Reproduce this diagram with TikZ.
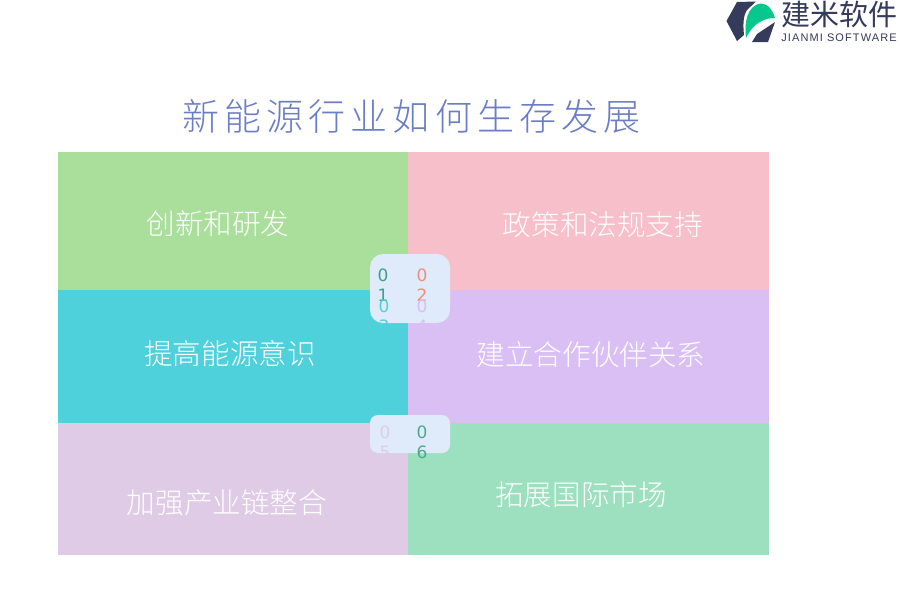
\documentclass[tikz,border=0pt]{standalone}
\usepackage{fontspec}
\setmainfont{Liberation Sans}
\newfontfamily\cjk{Noto Sans CJK SC}
\newfontfamily\cjklight{Noto Sans CJK SC Light}
\newfontfamily\titlefont{Noto Sans CJK SC Light}[LetterSpace=14]
\newfontfamily\digitfont{DejaVu Sans}
\definecolor{pgreen}{HTML}{A9DF9A}
\definecolor{ppink}{HTML}{F7BFCA}
\definecolor{pcyan}{HTML}{4FD1DC}
\definecolor{ppurple}{HTML}{D9BFF3}
\definecolor{pmauve}{HTML}{DFCBE6}
\definecolor{pmint}{HTML}{9DE0BF}
\definecolor{badge}{HTML}{DFEAFA}
\definecolor{titlec}{HTML}{6B7DC4}
\definecolor{logod}{HTML}{343B5B}
\definecolor{logog}{HTML}{05C88C}
\definecolor{dteal}{HTML}{3D9F8C}
\definecolor{dorange}{HTML}{F28C78}
\definecolor{dgreen}{HTML}{4BAA8C}
\tikzset{
  panel/.style={draw=none,inner sep=0,outer sep=0,anchor=north west},
  plabel/.style={text=white,font=\fontsize{28.6}{28.6}\selectfont\cjklight,inner sep=0},
  dig/.style={font=\fontsize{17}{17}\selectfont\digitfont,inner sep=0},
}
\begin{document}
\begin{tikzpicture}[x=1pt,y=-1pt]
\useasboundingbox (0,0) rectangle (900,600);
\fill[white] (0,0) rectangle (900,600);
% panels
\node[panel,fill=pgreen,minimum width=350pt,minimum height=138pt] (p1) at (58,152) {};
\node[panel,fill=ppink,minimum width=361pt,minimum height=138pt] (p2) at (408,152) {};
\node[panel,fill=pcyan,minimum width=350pt,minimum height=133pt] (p3) at (58,290) {};
\node[panel,fill=ppurple,minimum width=361pt,minimum height=133pt] (p4) at (408,290) {};
\node[panel,fill=pmauve,minimum width=350pt,minimum height=132pt] (p5) at (58,423) {};
\node[panel,fill=pmint,minimum width=361pt,minimum height=132pt] (p6) at (408,423) {};
% labels
\node[plabel] (l1) at (218,224) {创新和研发};
\node[plabel] (l2) at (603,225) {政策和法规支持};
\node[plabel] (l3) at (230,354) {提高能源意识};
\node[plabel] (l4) at (591,355) {建立合作伙伴关系};
\node[plabel] (l5) at (227,503) {加强产业链整合};
\node[plabel] (l6) at (581,495) {拓展国际市场};
% title
\node[text=titlec,font=\fontsize{37}{37}\selectfont\titlefont,inner sep=0] (title) at (411.5,116) {新能源行业如何生存发展};
% badges
\fill[badge,rounded corners=13pt] (370,254) rectangle (450,323);
\fill[badge,rounded corners=8pt] (370,415) rectangle (450,453);
\begin{scope}
\clip[rounded corners=13pt] (370,254) rectangle (450,323);
\node[dig,text=dteal] (d1a) at (383,275) {0};
\node[dig,text=dteal] (d1b) at (383,295) {1};
\node[dig,text=dorange] (d2a) at (422,275) {0};
\node[dig,text=dorange] (d2b) at (422,295) {2};
\node[dig,text=pcyan] (d3a) at (384,306) {0};
\node[dig,text=pcyan] (d3b) at (384,326) {3};
\node[dig,text=ppurple] (d4a) at (422,306) {0};
\node[dig,text=ppurple] (d4b) at (422,326) {4};
\end{scope}
\begin{scope}
\clip[rounded corners=8pt] (370,415) rectangle (470,453);
\node[dig,text=pmauve] (d5a) at (385,432) {0};
\node[dig,text=pmauve] (d5b) at (385,452) {5};
\end{scope}
\node[dig,text=dgreen] (d6a) at (422,432) {0};
\node[dig,text=dgreen] (d6b) at (422,452) {6};
% logo
\fill[logod] (726.5,21) -- (737,2) -- (756,1.5) -- (747,10) .. controls (743,16) and (743,25) .. (744,35) -- (737,41) -- cycle;
\fill[logog] (746,38) .. controls (744,20) and (748,8) .. (758,4) .. controls (766,2) and (772,8) .. (775,18) .. controls (765,18) and (754,22) .. (746,38) -- cycle;
\fill[logod] (752,42) -- (757,34) -- (775,22) -- (768,42) -- cycle;
\node[text=logod,font=\fontsize{29}{29}\selectfont\cjk,inner sep=0] (brand) at (839.5,14) {建米软件};
\node[text=logod,font=\fontsize{11}{11}\selectfont\addfontfeature{LetterSpace=10},inner sep=0] (brand2) at (839,38) {JIANMI SOFTWARE};
\end{tikzpicture}
\end{document}
